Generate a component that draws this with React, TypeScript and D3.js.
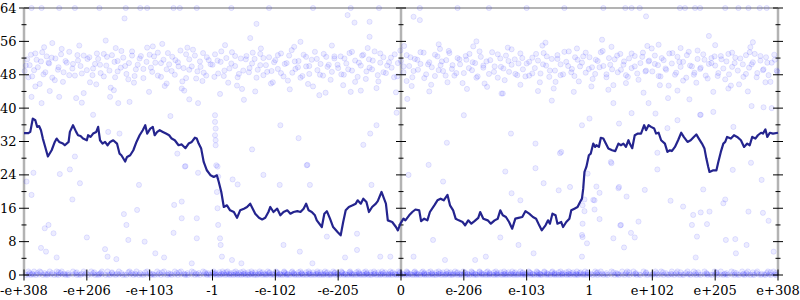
import React from "react";
import * as d3 from "d3";

// x positions are in "tick units": 0 = -e+308 ... 6 = 0 ... 12 = e+308
const tickLabels = ["-e+308", "-e+206", "-e+103", "-1", "-e-102", "-e-205", "0", "e-206", "e-103", "1", "e+102", "e+205", "e+308"];
const yTicks = [0, 8, 16, 24, 32, 40, 48, 56, 64];
const yMinor = [4, 12, 20, 28, 36, 44, 52, 60];

const lineData: [number, number][] = [
  [0, 34.0], [0.07, 34.0], [0.1, 34.3], [0.14, 37.5], [0.18, 37.1], [0.21, 35.5], [0.24, 35.7], [0.27, 34.7], [0.3, 32.7], [0.33, 31.1],
  [0.38, 28.4], [0.44, 29.9], [0.49, 31.9], [0.52, 32.7], [0.56, 31.9], [0.62, 31.5], [0.65, 31.1], [0.71, 31.9], [0.73, 34.3], [0.78, 35.9],
  [0.83, 34.3], [0.86, 33.5], [0.9, 33.3], [0.94, 32.7], [1.0, 32.3], [1.02, 33.5], [1.06, 33.1], [1.1, 33.9], [1.15, 34.3], [1.18, 35.5],
  [1.21, 32.3], [1.25, 31.5], [1.29, 31.9], [1.33, 31.1], [1.37, 31.9], [1.42, 32.3], [1.48, 31.5], [1.52, 29.1], [1.55, 28.7], [1.61, 27.2],
  [1.64, 28.3], [1.69, 28.7], [1.74, 29.9], [1.79, 31.9], [1.84, 33.5], [1.89, 34.7], [1.93, 35.9], [1.96, 33.9], [2.01, 35.1], [2.05, 35.5],
  [2.08, 33.5], [2.12, 34.3], [2.16, 34.7], [2.21, 34.3], [2.26, 33.9], [2.31, 33.5], [2.35, 32.7], [2.4, 32.3], [2.46, 31.1], [2.51, 31.3],
  [2.57, 30.4], [2.62, 31.5], [2.67, 31.9], [2.72, 32.9], [2.75, 32.7], [2.78, 31.5], [2.82, 30.3], [2.86, 27.1], [2.91, 25.1], [2.97, 23.9],
  [3.02, 23.5], [3.07, 23.9], [3.1, 22.3], [3.14, 19.9], [3.18, 16.3], [3.23, 16.7], [3.28, 15.5], [3.34, 15.1], [3.39, 13.7], [3.44, 15.5],
  [3.5, 15.9], [3.55, 16.3], [3.6, 17.1], [3.64, 15.9], [3.68, 14.7], [3.74, 13.7], [3.79, 13.3], [3.84, 13.7], [3.89, 15.1], [3.92, 16.3],
  [3.97, 15.1], [4.03, 15.9], [4.08, 14.3], [4.13, 15.1], [4.19, 15.5], [4.24, 14.7], [4.29, 15.1], [4.35, 15.3], [4.4, 15.1], [4.45, 15.9],
  [4.49, 17.1], [4.53, 15.5], [4.58, 15.1], [4.63, 14.3], [4.66, 13.1], [4.74, 11.5], [4.78, 14.7], [4.82, 15.3], [4.87, 13.5], [4.92, 11.5],
  [4.99, 10.3], [5.04, 9.5], [5.08, 12.7], [5.12, 15.5], [5.17, 16.3], [5.23, 16.7], [5.28, 17.1], [5.31, 17.9], [5.36, 17.1], [5.4, 18.3],
  [5.45, 17.5], [5.49, 15.1], [5.54, 16.3], [5.6, 17.1], [5.63, 17.7], [5.69, 19.9], [5.73, 18.3], [5.76, 17.1], [5.79, 13.1], [5.86, 12.7],
  [5.92, 11.5], [5.95, 10.7], [5.99, 12.3], [6.04, 13.5], [6.07, 13.1], [6.13, 14.3], [6.18, 15.1], [6.23, 15.7], [6.29, 15.5], [6.32, 12.9],
  [6.37, 13.5], [6.42, 13.1], [6.46, 15.1], [6.53, 16.7], [6.58, 17.9], [6.63, 18.3], [6.68, 17.9], [6.74, 19.2], [6.78, 16.7], [6.83, 15.5],
  [6.87, 13.5], [6.92, 13.1], [6.98, 12.7], [7.02, 11.9], [7.07, 13.1], [7.12, 12.3], [7.17, 12.9], [7.23, 13.7], [7.26, 15.1], [7.31, 13.5],
  [7.38, 13.1], [7.43, 12.3], [7.49, 13.1], [7.54, 13.5], [7.58, 15.5], [7.62, 14.3], [7.67, 13.9], [7.72, 12.7], [7.77, 11.1], [7.82, 13.5],
  [7.87, 13.7], [7.93, 13.9], [7.98, 15.3], [8.04, 14.7], [8.1, 13.9], [8.15, 13.5], [8.2, 11.9], [8.24, 10.7], [8.3, 11.9], [8.34, 13.1],
  [8.37, 12.3], [8.41, 14.7], [8.46, 14.3], [8.49, 12.3], [8.55, 12.7], [8.58, 11.5], [8.63, 12.7], [8.68, 13.5], [8.71, 15.5], [8.76, 15.9],
  [8.81, 16.3], [8.85, 17.5], [8.88, 18.3], [8.9, 20.7], [8.92, 24.7], [8.95, 25.9], [8.99, 28.7], [9.02, 29.1], [9.06, 31.5], [9.09, 30.7],
  [9.11, 31.1], [9.15, 30.7], [9.18, 32.9], [9.22, 32.7], [9.26, 31.5], [9.3, 30.3], [9.36, 29.9], [9.41, 29.7], [9.46, 31.5], [9.5, 31.1],
  [9.54, 31.5], [9.58, 30.7], [9.62, 32.3], [9.64, 31.5], [9.68, 30.4], [9.72, 33.5], [9.77, 33.9], [9.82, 33.9], [9.87, 35.9], [9.9, 34.7],
  [9.94, 35.9], [9.98, 35.5], [10.03, 35.1], [10.06, 33.9], [10.1, 34.1], [10.14, 32.3], [10.2, 31.5], [10.24, 29.5], [10.28, 29.9], [10.31, 29.7],
  [10.36, 30.7], [10.41, 32.3], [10.46, 34.1], [10.5, 33.1], [10.56, 31.9], [10.61, 32.3], [10.66, 33.1], [10.7, 33.7], [10.74, 32.7], [10.79, 31.5],
  [10.83, 30.3], [10.86, 27.9], [10.89, 25.9], [10.91, 24.7], [10.97, 25.1], [11.02, 25.1], [11.05, 27.1], [11.09, 29.5], [11.13, 31.5], [11.16, 31.9],
  [11.19, 33.1], [11.25, 32.7], [11.3, 33.5], [11.35, 33.1], [11.41, 32.3], [11.46, 30.7], [11.51, 31.5], [11.55, 31.1], [11.59, 33.1], [11.64, 32.7],
  [11.68, 33.5], [11.73, 34.1], [11.76, 33.9], [11.8, 34.9], [11.83, 33.1], [11.87, 34.1], [11.92, 33.9], [12.0, 34.1],
];

const cloudPoints: [number, number][] = [
  [0.03, 50.2], [0.07, 47.4], [0.11, 52.8], [0.16, 49.1], [0.2, 51.6], [0.25, 45.8], [0.29, 53.4], [0.34, 48.6], [0.39, 50.9], [0.44, 52.1], [0.49, 46.7], [0.55, 49.8], [0.6, 54.2], [0.66, 51.3], [0.72, 47.9], [0.78, 50.6], [0.85, 52.7], [0.92, 48.3],
  [1.01, 51.8], [1.05, 46.2], [1.1, 49.5], [1.16, 53.1], [1.21, 50.4], [1.27, 47.6], [1.32, 52.3], [1.38, 44.9], [1.44, 51.1], [1.49, 48.8], [1.55, 53.7], [1.61, 50.1], [1.66, 46.9], [1.72, 52.6], [1.78, 49.3], [1.84, 51.9], [1.9, 47.2], [1.96, 54.5],
  [2.02, 49.7], [2.07, 52.4], [2.13, 47.8], [2.18, 50.8], [2.24, 45.3], [2.29, 53.2], [2.35, 48.9], [2.41, 51.5], [2.46, 50.0], [2.52, 46.4], [2.58, 52.9], [2.63, 49.2], [2.69, 54.0], [2.74, 47.1], [2.8, 51.2], [2.86, 48.5], [2.91, 52.2], [2.97, 50.5],
  [3.03, 47.5], [3.08, 51.4], [3.14, 53.6], [3.19, 49.0], [3.25, 46.1], [3.3, 50.7], [3.36, 52.5], [3.42, 48.2], [3.47, 44.6], [3.53, 51.7], [3.59, 49.6], [3.64, 53.3], [3.7, 47.3], [3.76, 50.3], [3.81, 52.0], [3.87, 48.7], [3.93, 45.9], [3.98, 51.0],
  [4.04, 52.7], [4.09, 48.4], [4.15, 50.6], [4.2, 46.6], [4.26, 53.9], [4.32, 49.4], [4.37, 51.3], [4.43, 47.7], [4.49, 52.3], [4.54, 50.1], [4.6, 45.2], [4.66, 51.8], [4.71, 48.0], [4.77, 53.0], [4.83, 49.9], [4.88, 46.8], [4.94, 52.4], [4.99, 50.4],
  [5.05, 48.1], [5.1, 51.9], [5.16, 49.3], [5.22, 53.5], [5.27, 46.3], [5.33, 50.9], [5.38, 52.6], [5.44, 47.0], [5.5, 49.7], [5.55, 51.4], [5.61, 44.8], [5.67, 53.1], [5.72, 48.6], [5.78, 50.2], [5.84, 52.1], [5.89, 47.4], [5.95, 50.8], [5.99, 53.8],
  [6.04, 50.0], [6.09, 46.5], [6.15, 52.2], [6.2, 48.9], [6.26, 51.6], [6.31, 53.4], [6.37, 47.2], [6.43, 50.5], [6.48, 45.6], [6.54, 52.8], [6.6, 49.1], [6.65, 51.2], [6.71, 47.8], [6.77, 53.2], [6.82, 50.3], [6.88, 48.4], [6.93, 51.7], [6.98, 46.0],
  [7.03, 52.5], [7.08, 49.6], [7.14, 51.0], [7.2, 47.3], [7.25, 53.6], [7.31, 50.2], [7.37, 45.1], [7.42, 51.5], [7.48, 48.7], [7.54, 52.9], [7.59, 49.9], [7.65, 46.7], [7.71, 51.3], [7.76, 54.1], [7.82, 48.2], [7.87, 50.7], [7.93, 52.0], [7.98, 47.6],
  [8.04, 51.1], [8.09, 48.3], [8.15, 53.0], [8.21, 46.2], [8.26, 50.5], [8.32, 52.4], [8.37, 49.0], [8.43, 44.7], [8.49, 51.8], [8.54, 47.9], [8.6, 53.5], [8.66, 50.1], [8.71, 48.6], [8.77, 52.2], [8.83, 46.4], [8.88, 50.9], [8.94, 53.3], [8.99, 49.4],
  [9.05, 47.0], [9.1, 51.6], [9.16, 49.8], [9.21, 53.7], [9.27, 48.1], [9.33, 50.4], [9.38, 45.5], [9.44, 52.6], [9.5, 49.2], [9.55, 51.2], [9.61, 47.5], [9.67, 53.1], [9.72, 50.0], [9.78, 46.8], [9.84, 52.3], [9.89, 48.8], [9.95, 51.4], [9.99, 54.3],
  [10.04, 50.6], [10.1, 47.7], [10.15, 52.0], [10.21, 49.5], [10.26, 45.4], [10.32, 53.2], [10.38, 48.5], [10.43, 51.1], [10.49, 46.6], [10.55, 52.7], [10.6, 50.2], [10.66, 48.0], [10.72, 53.8], [10.77, 49.7], [10.83, 51.6], [10.88, 47.1], [10.94, 50.8], [10.99, 52.4],
  [11.05, 48.4], [11.1, 51.7], [11.16, 46.9], [11.21, 53.0], [11.27, 49.9], [11.32, 52.1], [11.38, 45.7], [11.44, 50.5], [11.49, 48.2], [11.55, 53.4], [11.6, 51.0], [11.66, 47.4], [11.72, 52.5], [11.77, 49.3], [11.83, 50.9], [11.88, 46.3], [11.94, 52.8], [11.98, 49.0],
];

const cloudPointsB: [number, number][] = [
  [0.01, 48.9], [0.05, 51.7], [0.09, 50.3], [0.13, 47.6], [0.18, 53.1], [0.22, 49.8], [0.27, 51.2], [0.31, 48.1], [0.36, 52.4], [0.4, 50.7], [0.45, 47.3], [0.5, 51.9], [0.54, 49.2], [0.59, 52.9], [0.63, 48.6], [0.68, 50.9], [0.72, 53.5], [0.77, 49.5], [0.81, 47.8], [0.86, 51.4], [0.9, 50.1], [0.95, 52.6],
  [1.0, 49.1], [1.04, 52.2], [1.09, 47.9], [1.13, 50.6], [1.18, 51.8], [1.22, 48.4], [1.27, 53.0], [1.31, 50.2], [1.36, 49.0], [1.4, 52.7], [1.45, 47.4], [1.49, 51.3], [1.54, 49.7], [1.58, 52.1], [1.63, 48.2], [1.67, 50.8], [1.72, 53.6], [1.76, 47.7], [1.81, 50.4], [1.86, 52.5], [1.9, 49.4], [1.95, 51.1],
  [2.0, 52.8], [2.04, 48.7], [2.09, 50.9], [2.13, 53.3], [2.18, 47.5], [2.22, 51.6], [2.27, 49.3], [2.31, 50.5], [2.36, 52.3], [2.4, 48.0], [2.45, 51.0], [2.49, 53.8], [2.54, 49.6], [2.58, 47.2], [2.63, 51.7], [2.67, 50.0], [2.72, 52.6], [2.76, 48.8], [2.81, 49.9], [2.85, 53.2], [2.9, 47.8], [2.94, 51.5],
  [3.0, 50.4], [3.04, 52.9], [3.09, 48.3], [3.13, 51.1], [3.18, 47.7], [3.22, 52.0], [3.27, 49.5], [3.31, 53.4], [3.36, 50.1], [3.4, 47.4], [3.45, 51.9], [3.49, 49.0], [3.54, 52.5], [3.58, 48.6], [3.63, 50.7], [3.67, 51.8], [3.72, 49.2], [3.76, 53.0], [3.81, 47.9], [3.85, 50.3], [3.9, 52.2], [3.94, 48.9],
  [4.0, 51.5], [4.04, 49.4], [4.09, 53.1], [4.13, 47.6], [4.18, 50.8], [4.22, 52.6], [4.27, 48.5], [4.31, 51.2], [4.36, 49.8], [4.4, 47.3], [4.45, 52.8], [4.49, 50.0], [4.54, 48.2], [4.58, 51.6], [4.63, 53.5], [4.67, 49.1], [4.72, 50.6], [4.76, 47.8], [4.81, 52.3], [4.85, 50.4], [4.9, 48.7], [4.94, 51.9],
  [5.0, 49.6], [5.04, 52.4], [5.09, 48.0], [5.13, 50.7], [5.18, 53.2], [5.22, 49.0], [5.27, 51.4], [5.31, 47.5], [5.36, 50.2], [5.4, 52.8], [5.45, 48.8], [5.49, 51.7], [5.54, 49.3], [5.58, 53.6], [5.63, 47.9], [5.67, 50.9], [5.72, 52.2], [5.76, 48.4], [5.81, 51.0], [5.85, 49.7], [5.9, 52.9], [5.94, 47.6],
  [6.0, 51.3], [6.04, 48.6], [6.09, 52.7], [6.13, 50.1], [6.18, 47.4], [6.22, 51.8], [6.27, 49.2], [6.31, 50.6], [6.36, 53.3], [6.4, 48.1], [6.45, 51.0], [6.49, 49.8], [6.54, 47.7], [6.58, 52.4], [6.63, 50.3], [6.67, 48.9], [6.72, 51.5], [6.76, 53.7], [6.81, 49.4], [6.85, 47.8], [6.9, 52.0], [6.94, 50.5],
  [7.0, 48.4], [7.04, 51.6], [7.09, 53.0], [7.13, 49.1], [7.18, 50.8], [7.22, 47.6], [7.27, 52.3], [7.31, 49.7], [7.36, 51.2], [7.4, 48.2], [7.45, 53.4], [7.49, 50.0], [7.54, 47.3], [7.58, 51.9], [7.63, 49.5], [7.67, 52.6], [7.72, 48.7], [7.76, 50.4], [7.81, 51.7], [7.85, 47.9], [7.9, 53.1], [7.94, 49.3],
  [8.0, 50.7], [8.04, 47.8], [8.09, 52.1], [8.13, 49.6], [8.18, 51.4], [8.22, 48.3], [8.27, 53.2], [8.31, 50.2], [8.36, 47.5], [8.4, 51.8], [8.45, 49.0], [8.49, 52.7], [8.54, 50.5], [8.58, 48.1], [8.63, 51.1], [8.67, 53.6], [8.72, 49.4], [8.76, 47.7], [8.81, 51.6], [8.85, 50.0], [8.9, 52.4], [8.94, 48.5],
  [9.0, 52.2], [9.04, 49.8], [9.09, 48.2], [9.13, 51.3], [9.18, 53.4], [9.22, 50.1], [9.27, 47.4], [9.31, 52.0], [9.36, 49.3], [9.4, 51.7], [9.45, 48.6], [9.49, 53.0], [9.54, 50.4], [9.58, 47.9], [9.63, 51.9], [9.67, 49.6], [9.72, 52.5], [9.76, 48.3], [9.81, 50.8], [9.85, 53.3], [9.9, 49.0], [9.94, 51.2],
  [10.0, 48.8], [10.04, 52.6], [10.09, 50.3], [10.13, 47.6], [10.18, 51.5], [10.22, 49.2], [10.27, 53.1], [10.31, 50.7], [10.36, 48.0], [10.4, 52.3], [10.45, 49.9], [10.49, 51.1], [10.54, 47.3], [10.58, 53.5], [10.63, 50.0], [10.67, 48.5], [10.72, 51.8], [10.76, 49.4], [10.81, 52.9], [10.85, 47.8], [10.9, 50.6], [10.94, 52.0],
  [11.0, 50.2], [11.04, 47.7], [11.09, 52.5], [11.13, 49.5], [11.18, 51.2], [11.22, 48.1], [11.27, 53.3], [11.31, 50.8], [11.36, 49.0], [11.4, 51.9], [11.45, 47.5], [11.49, 52.7], [11.54, 49.7], [11.58, 50.5], [11.63, 53.0], [11.67, 48.4], [11.72, 51.4], [11.76, 49.1], [11.81, 52.2], [11.85, 47.9], [11.9, 50.9], [11.95, 51.6], [11.99, 48.7],
];

const cloudEdgePoints: [number, number][] = [
  [0.18, 45.2], [0.41, 44.1], [0.62, 46.3], [0.95, 43.6], [1.15, 45.7], [1.43, 44.3], [1.75, 46.1], [1.99, 43.9], [2.27, 45.9], [2.55, 44.2],
  [2.84, 46.5], [3.12, 43.4], [3.39, 45.4], [3.68, 44.0], [3.96, 46.2], [4.23, 44.5], [4.52, 45.8], [4.8, 43.7], [5.08, 45.5], [5.36, 44.2],
  [5.64, 46.4], [5.92, 43.8], [6.17, 45.3], [6.45, 44.0], [6.74, 46.2], [7.05, 44.6], [7.33, 45.9], [7.62, 43.5], [7.9, 45.6], [8.18, 44.1],
  [8.46, 46.3], [8.75, 43.9], [9.03, 45.2], [9.3, 44.4], [9.58, 46.0], [9.86, 43.7], [10.12, 45.5], [10.4, 44.2], [10.7, 46.1], [10.97, 43.9],
  [11.25, 45.4], [11.52, 44.0], [11.8, 46.2],
  [0.32, 54.6], [0.88, 55.0], [1.46, 54.4], [2.05, 54.8], [2.6, 54.5], [3.2, 55.1], [3.77, 54.3], [4.3, 54.7], [4.9, 55.0], [5.47, 54.4],
  [6.05, 54.9], [6.62, 54.2], [7.15, 54.8], [7.7, 54.5], [8.25, 55.0], [8.8, 54.3], [9.35, 54.7], [9.92, 54.9], [10.45, 54.4], [11.0, 55.1], [11.56, 54.6],
];

const outlierPoints: [number, number][] = [
  [0.12, 42.7], [0.28, 41.2], [0.56, 42.7], [0.83, 42.4], [0.92, 41.3], [1.1, 38.4], [1.37, 42.7], [1.5, 41.2], [1.68, 41.5], [2.33, 38.1],
  [2.51, 44.7], [2.63, 42.1], [2.77, 41.2], [3.04, 38.3], [3.04, 36.7], [3.05, 35.1], [4.08, 35.9], [5.93, 38.9], [7.0, 38.3], [5.61, 35.9],
  [9.0, 37.5], [8.88, 35.9], [9.47, 36.3], [10.05, 38.7], [10.4, 37.1], [10.24, 35.2], [10.77, 38.4], [11.29, 35.5], [10.59, 42.1], [10.76, 38.4],
  [10.97, 39.1], [11.58, 40.5], [11.77, 40.2], [11.9, 40], [9.94, 41.2], [10.25, 42.4], [9.38, 41.2], [9.67, 38.8], [11.21, 44.7], [4.7, 43.1],
  [6.1, 42.2], [7.6, 43.5], [3.5, 42.0], [8.4, 41.8], [5.2, 43.9],
  [0.45, 55.6], [1.3, 56.2], [2.2, 55.4], [3.6, 56.8], [4.4, 55.9], [5.5, 57.1], [6.6, 55.3], [7.2, 56.0], [8.3, 55.7], [9.2, 56.4],
  [10.1, 55.2], [10.9, 57.3], [11.6, 55.8],
  [5.15, 62.3], [5.26, 60.5], [5.5, 60.7], [6.2, 61.9], [6.3, 61.1], [1.6, 61.5], [9.9, 62.0], [3.7, 60.2],
];

const topRowX = [0.12, 0.28, 0.56, 0.81, 1.2, 1.62, 1.85, 1.96, 2.38, 2.48, 2.75, 3.3, 3.9, 4.6, 5.2, 5.65, 6.3, 6.9, 7.4, 8.0, 8.6,
  9.22, 9.57, 9.67, 9.8, 10.44, 10.52, 10.68, 10.76, 11.16, 11.37, 11.53, 11.71, 11.82];

const midPoints: [number, number][] = [
  [0.15, 24.5], [0.04, 22.4], [0.57, 24.2], [0.73, 25.3], [0.89, 22], [0.81, 28.4], [0.12, 19.2], [0.77, 18.1], [0.39, 12], [0.33, 11.2],
  [0.47, 10], [1.0, 9], [0.27, 6.5], [0.35, 5.6], [0.52, 4.2], [1.29, 6.2], [1.33, 4.4], [1.47, 3.8], [1.59, 14.6], [1.63, 12],
  [1.66, 8.4], [1.8, 15.6], [1.83, 21.6], [1.92, 8], [2.09, 5.2], [2.23, 4.2], [2.38, 10.1], [2.39, 16.8], [2.51, 17.6], [2.51, 13.6],
  [2.56, 26], [2.75, 13.6], [2.75, 8.8], [2.67, 2.8], [2.77, 24.5], [3.08, 26], [3.09, 23.6], [3.09, 12], [3.12, 8.8], [3.13, 7.2],
  [3.15, 4.4], [3.32, 22.9], [3.4, 21.7], [3.31, 3.6], [3.46, 2.8], [3.81, 24], [4.07, 21.6], [4.13, 7.2], [4.39, 5.6], [4.51, 26.4],
  [4.55, 21.6], [4.59, 2.8], [4.82, 9.2], [5.11, 4.2], [5.3, 6], [5.53, 21.6], [5.67, 4.4], [5.83, 4.4], [6.12, 24], [6.44, 26.4],
  [6.67, 22.4], [6.51, 8.4], [6.2, 4.4], [6.7, 3.6], [7.18, 3.6], [7.35, 4.4], [7.58, 9], [7.66, 24.8], [7.76, 19.6], [7.87, 7.2],
  [8.11, 5.2], [8.27, 22], [8.53, 29.2], [8.88, 9.6], [8.88, 4.4], [9.06, 18], [9.11, 21.2], [8.96, 7.6], [9.35, 26.8], [9.46, 20.8],
  [9.59, 18.8], [9.88, 20.4], [10.29, 17.8], [9.38, 8.8], [9.55, 6.6], [9.66, 10.1], [9.72, 9], [9.78, 12.8], [9.5, 12], [10.08, 25.3],
  [10.49, 16.4], [10.63, 12], [10.65, 14.4], [10.71, 9.2], [10.77, 15], [10.81, 20.5], [10.87, 12.2], [10.91, 15.2], [10.69, 4.2], [11.13, 17.2],
  [11.16, 18.1], [11.17, 8.4], [11.32, 8.6], [11.33, 5.2], [11.5, 7.2], [11.53, 15.2], [11.74, 22.8], [11.76, 14.9], [11.85, 13], [11.93, 5.6],
  [11.57, 26.9], [11.28, 25.2], [3.04, 33.5], [3.05, 32.3], [3.05, 31.1], [3.06, 26.3], [3.07, 19.9], [3.08, 16], [4.37, 32.8], [3.63, 30.1],
  [4.5, 26.3], [2.57, 26.1], [2.44, 29.1], [5.51, 33.9], [5.4, 31.2], [6.73, 31.7], [5.3, 9.9], [7.75, 33.9], [8.14, 31.5], [8.55, 29.5],
  [9.34, 27.1], [8.14, 25.6], [8.97, 24.3], [9.47, 21.1], [8.69, 21.1], [8.51, 20.3], [9.16, 19.7], [7.9, 17.9], [8.92, 18.1], [9.08, 17.9],
  [8.89, 16.7], [8.92, 15.3], [9.16, 13.4], [9.08, 15.7], [8.89, 12.3], [9.49, 11.9], [8.89, 9.1], [10.08, 29.3], [1.52, 33.9], [1.34, 34.3],
];

const bottomRow0 = [0.03, 0.11, 0.19, 0.3, 0.37, 0.48, 0.55, 0.66, 0.71, 0.84, 0.9, 1.02, 1.13, 1.19, 1.3, 1.37, 1.46, 1.57, 1.63, 1.74,
  1.83, 1.9, 2.02, 2.08, 2.18, 2.28, 2.35, 2.45, 2.56, 2.61, 2.72, 2.8, 2.91, 2.97, 3.06, 3.12, 3.2, 3.27, 3.33, 3.4, 3.46, 3.53, 3.58, 3.66,
  3.71, 3.79, 3.85, 3.92, 3.98, 4.05, 4.11, 4.18, 4.23, 4.31, 4.37, 4.44, 4.5, 4.57, 4.63, 4.7, 4.76, 4.83, 4.88, 4.96, 5.02, 5.09, 5.15,
  5.22, 5.28, 5.35, 5.41, 5.48, 5.53, 5.61, 5.67, 5.74, 5.8, 5.86, 5.93, 5.99, 6.06, 6.12, 6.19, 6.25, 6.31, 6.38, 6.44, 6.51, 6.56, 6.64,
  6.7, 6.77, 6.82, 6.9, 6.96, 7.03, 7.09, 7.16, 7.21, 7.29, 7.35, 7.41, 7.48, 7.54, 7.61, 7.67, 7.73, 7.8, 7.86, 7.93, 7.98, 8.06, 8.12,
  8.19, 8.24, 8.32, 8.38, 8.45, 8.51, 8.57, 8.64, 8.7, 8.77, 8.82, 8.9, 8.96, 9.05, 9.13, 9.22, 9.29, 9.4, 9.47, 9.56, 9.64, 9.75, 9.81,
  9.92, 10.0, 10.09, 10.18, 10.26, 10.35, 10.44, 10.5, 10.61, 10.7, 10.77, 10.88, 10.95, 11.04, 11.13, 11.2, 11.31, 11.38, 11.47, 11.56,
  11.62, 11.73, 11.8, 11.89, 11.97];

const bottomRow0b = [0.07, 0.15, 0.24, 0.34, 0.43, 0.52, 0.61, 0.69, 0.78, 0.87, 0.97, 1.07, 1.16, 1.24, 1.34, 1.42, 1.51, 1.6, 1.69, 1.78,
  1.87, 1.95, 2.05, 2.13, 2.23, 2.31, 2.4, 2.5, 2.58, 2.67, 2.76, 2.86, 2.94, 3.02, 3.09, 3.16, 3.23, 3.3, 3.36, 3.43, 3.49, 3.56, 3.62,
  3.68, 3.75, 3.82, 3.88, 3.95, 4.02, 4.08, 4.14, 4.2, 4.27, 4.34, 4.4, 4.47, 4.54, 4.6, 4.67, 4.73, 4.79, 4.86, 4.92, 4.99, 5.05, 5.12,
  5.18, 5.25, 5.31, 5.38, 5.44, 5.51, 5.57, 5.64, 5.7, 5.77, 5.83, 5.9, 5.96, 6.03, 6.09, 6.16, 6.22, 6.28, 6.35, 6.41, 6.47, 6.54, 6.6,
  6.67, 6.73, 6.8, 6.86, 6.93, 6.99, 7.06, 7.12, 7.19, 7.25, 7.32, 7.38, 7.45, 7.51, 7.58, 7.64, 7.7, 7.77, 7.83, 7.9, 7.96, 8.02, 8.09,
  8.16, 8.22, 8.28, 8.35, 8.42, 8.48, 8.54, 8.61, 8.67, 8.74, 8.8, 8.86, 8.93, 9.0, 9.09, 9.17, 9.26, 9.35, 9.44, 9.52, 9.61, 9.7, 9.79,
  9.88, 9.96, 10.05, 10.14, 10.23, 10.31, 10.4, 10.48, 10.57, 10.66, 10.74, 10.83, 10.92, 11.0, 11.09, 11.17, 11.27, 11.35, 11.44, 11.52,
  11.6, 11.69, 11.78, 11.86, 11.95];

const bottomRowQ = [0.13, 0.38, 0.64, 0.92, 1.2, 1.48, 1.77, 2.04, 2.33, 2.55, 2.74, 2.9, 3.03, 3.14, 3.26, 3.38, 3.5, 3.61, 3.73, 3.84,
  3.96, 4.07, 4.19, 4.3, 4.42, 4.53, 4.65, 4.76, 4.88, 4.99, 5.11, 5.22, 5.34, 5.45, 5.57, 5.68, 5.8, 5.91, 6.03, 6.14, 6.26, 6.37, 6.49,
  6.6, 6.72, 6.83, 6.95, 7.06, 7.18, 7.29, 7.41, 7.52, 7.64, 7.75, 7.87, 7.98, 8.1, 8.21, 8.33, 8.44, 8.56, 8.67, 8.79, 8.9, 9.02, 9.2,
  9.45, 9.73, 10.01, 10.3, 10.59, 10.87, 11.15, 11.45, 11.74];

const bottomMid = [0.09, 0.21, 0.33, 0.45, 0.58, 0.7, 0.82, 0.99, 1.1, 1.22, 1.4, 1.55, 1.71, 1.85, 2.0, 2.15, 2.3, 2.43, 2.6, 2.78, 2.93,
  3.05, 3.18, 3.29, 3.41, 3.52, 3.64, 3.77, 3.9, 4.03, 4.16, 4.29, 4.42, 4.55, 4.68, 4.81, 4.94, 5.07, 5.2, 5.33, 5.46, 5.59, 5.72, 5.85,
  5.98, 6.11, 6.24, 6.37, 6.5, 6.63, 6.76, 6.89, 7.02, 7.15, 7.28, 7.41, 7.54, 7.67, 7.8, 7.93, 8.06, 8.19, 8.32, 8.45, 8.58, 8.71, 8.84,
  8.97, 9.11, 9.27, 9.43, 9.58, 9.74, 9.9, 10.07, 10.22, 10.38, 10.53, 10.69, 10.86, 11.02, 11.18, 11.34, 11.5, 11.66, 11.82, 11.96];

const bottomRowR = [0.27, 0.55, 0.84, 1.12, 1.4, 1.66, 1.93, 2.2, 2.47, 2.7, 2.88, 3.0, 3.11, 3.22, 3.34, 3.45, 3.57, 3.68, 3.8, 3.91,
  4.03, 4.14, 4.26, 4.37, 4.49, 4.6, 4.72, 4.83, 4.95, 5.06, 5.18, 5.29, 5.41, 5.52, 5.64, 5.75, 5.87, 5.98, 6.1, 6.21, 6.33, 6.44, 6.56,
  6.67, 6.79, 6.9, 7.02, 7.13, 7.25, 7.36, 7.48, 7.59, 7.71, 7.82, 7.94, 8.05, 8.17, 8.28, 8.4, 8.51, 8.63, 8.74, 8.86, 8.97, 9.13, 9.38,
  9.63, 9.9, 10.17, 10.45, 10.73, 11.02, 11.3, 11.6, 11.88];

const bottomRow1 = [0.07, 0.16, 0.25, 0.41, 0.52, 0.6, 0.78, 0.95, 1.07, 1.24, 1.33, 1.51, 1.68, 1.79, 1.96, 2.12, 2.23, 2.4, 2.5, 2.67,
  2.85, 3.02, 3.16, 3.24, 3.37, 3.49, 3.62, 3.75, 3.88, 4.01, 4.14, 4.27, 4.4, 4.53, 4.67, 4.79, 4.92, 5.05, 5.19, 5.32, 5.44, 5.57, 5.7,
  5.83, 5.96, 6.09, 6.22, 6.35, 6.47, 6.6, 6.73, 6.86, 6.99, 7.12, 7.25, 7.38, 7.51, 7.64, 7.77, 7.9, 8.03, 8.16, 8.28, 8.41, 8.54,
  8.67, 8.8, 8.93, 9.09, 9.18, 9.35, 9.52, 9.6, 9.7, 9.86, 10.05, 10.14, 10.31, 10.4, 10.56, 10.66, 10.83, 10.99, 11.09, 11.26, 11.43,
  11.52, 11.67, 11.84, 11.93];

const W = 800;
const H = 300;
const FONT = "'DejaVu Serif', serif";

export default function App() {
  const x = d3.scaleLinear().domain([0, 12]).range([24, 778]);
  const y = d3.scaleLinear().domain([0, 64]).range([275, 8]);

  const allDots: [number, number][] = [
    ...cloudPoints,
    ...cloudPointsB,
    ...cloudEdgePoints,
    ...outlierPoints,
    ...topRowX.map((v) => [v, 64] as [number, number]),
    ...midPoints,
    ...bottomRow0.map((v) => [v, 0] as [number, number]),
    ...bottomRow0b.map((v) => [v, 0.1] as [number, number]),
    ...bottomRowQ.map((v) => [v, 0.3] as [number, number]),
    ...bottomMid.map((v) => [v, 0.45] as [number, number]),
    ...bottomRowR.map((v) => [v, 0.65] as [number, number]),
    ...bottomRow1.map((v) => [v, 0.85] as [number, number]),
  ];

  const line = d3
    .line<[number, number]>()
    .x((d) => x(d[0]))
    .y((d) => y(d[1]));

  const axisXs = [0, 6, 12];
  const gray = "#b3b3b3";

  return (
    <svg width={W} height={H} style={{ position: "absolute", left: 0, top: 0, background: "#fff" }}>
      {/* frame lines */}
      <line x1={x(0)} x2={x(12)} y1={y(64)} y2={y(64)} stroke={gray} strokeWidth={2} />
      <line x1={x(0)} x2={x(12)} y1={y(0)} y2={y(0)} stroke={gray} strokeWidth={2} />
      {axisXs.map((a) => (
        <line key={"ax" + a} x1={x(a)} x2={x(a)} y1={y(64)} y2={y(0)} stroke={gray} strokeWidth={2.5} />
      ))}

      {/* dots */}
      <g>
        {allDots.map((d, i) => (
          <circle
            key={i}
            cx={x(d[0])}
            cy={y(d[1])}
            r={2.6}
            fill="rgba(0,0,255,0.075)"
            stroke="rgba(0,0,255,0.12)"
            strokeWidth={0.8}
          />
        ))}
      </g>

      {/* ticks */}
      {axisXs.map((a) => (
        <g key={"t" + a}>
          {yTicks.map((t) => (
            <line key={"M" + t} x1={x(a) - 5} x2={x(a) + 5} y1={y(t)} y2={y(t)} stroke="#000" strokeWidth={1} />
          ))}
          {yMinor.map((t) => (
            <line key={"m" + t} x1={x(a) - 2.5} x2={x(a) + 2.5} y1={y(t)} y2={y(t)} stroke="#000" strokeWidth={1} />
          ))}
        </g>
      ))}
      {tickLabels.map((lab, i) => (
        <line key={"xt" + i} x1={x(i)} x2={x(i)} y1={y(0) - 5.5} y2={y(0) + 5.5} stroke="#000" strokeWidth={1} />
      ))}

      {/* line series */}
      <path d={line(lineData) || ""} fill="none" stroke="#24248e" strokeWidth={2.2} strokeLinejoin="round" />

      {/* labels */}
      {yTicks.map((t) => (
        <text key={"yl" + t} x={16.5} y={y(t) + 4.6} textAnchor="end" fontFamily={FONT} fontSize={13} fill="#000">
          {t}
        </text>
      ))}
      {tickLabels.map((lab, i) => (
        <text key={"xl" + i} x={x(i)} y={294.5} textAnchor="middle" fontFamily={FONT} fontSize={13} fill="#000">
          {lab}
        </text>
      ))}
    </svg>
  );
}
